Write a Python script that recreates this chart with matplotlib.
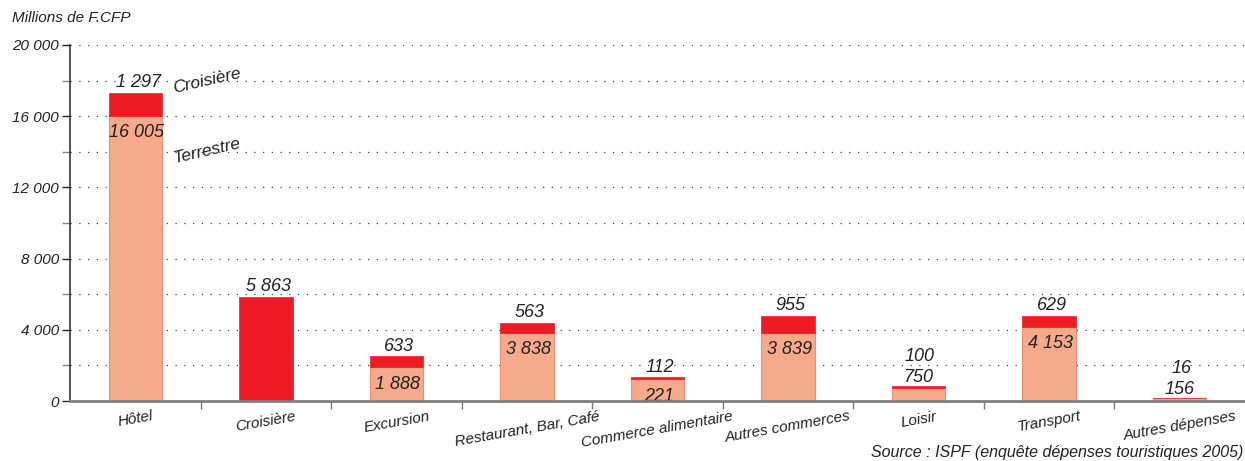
import matplotlib.pyplot as plt
import numpy as np

plt.rcParams['font.family'] = ['Liberation Sans', 'DejaVu Sans']
plt.rcParams['font.style'] = 'italic'

## Data (millions de F.CFP)
categories = ['Hôtel', 'Croisière', 'Excursion', 'Restaurant, Bar, Café',
              'Commerce alimentaire', 'Autres commerces', 'Loisir',
              'Transport', 'Autres dépenses']
terrestre = [16005, 0, 1888, 3838, 1221, 3839, 750, 4153, 156]
croisiere = [1297, 5863, 633, 563, 112, 955, 100, 629, 16]
terrestre_labels = ['16 005', '', '1 888', '3 838', '221', '3 839', '750', '4 153', '156']
croisiere_labels = ['1 297', '5 863', '633', '563', '112', '955', '100', '629', '16']
small_bar = [False, False, False, False, False, False, True, False, True]  # labels above the bar

y_ticks = [0, 4000, 8000, 12000, 16000, 20000]
y_tick_labels = ['0', '4 000', '8 000', '12 000', '16 000', '20 000']

c_terr = '#F7A98C'
c_terr_edge = '#F28C74'
c_crois = '#ED1C24'
txt = '#222222'

fig = plt.figure(figsize=(12.45, 4.61), dpi=100)
ax = fig.add_axes([70 / 1245, 1 - 401 / 461, 1175 / 1245, 356 / 461])

x = np.arange(len(categories))
w = 0.41
ax.bar(x, terrestre, w, color=c_terr, edgecolor=c_terr_edge, linewidth=0.8, zorder=3)
ax.bar(x, croisiere, w, bottom=terrestre, color=c_crois, edgecolor=c_crois, linewidth=0.5, zorder=3)

ax.set_xlim(-0.5, len(categories) - 0.5)
ax.set_ylim(0, 20000)

# grid (dotted) every 2000
for g in range(2000, 20001, 2000):
    ax.axhline(g, color='#444444', linewidth=0.9, linestyle=(0, (1, 6)), zorder=1)

# y axis
ax.set_yticks(y_ticks)
ax.set_yticklabels(y_tick_labels, fontsize=11)
ax.set_yticks(range(2000, 20000, 4000), minor=True)
ax.tick_params(axis='y', which='major', length=6, width=1, color=txt, pad=2, labelcolor=txt)
ax.tick_params(axis='y', which='minor', length=6, width=1, color='#888888')

# x axis: labels at centers, ticks at boundaries
ax.set_xticks(x)
ax.set_xticklabels(categories, fontsize=11, rotation=10, ha='center', color=txt)
ax.set_xticks(np.arange(0.5, len(categories) - 0.5, 1), minor=True)
ax.tick_params(axis='x', which='major', length=0, pad=6)
ax.tick_params(axis='x', which='minor', length=6, width=1, color='#777777')
xl = ax.get_xticklabels()
xl[3].set_x(-0.1)
xl[4].set_x(3.86)

for s in ['top', 'right']:
    ax.spines[s].set_visible(False)
ax.spines['left'].set_color(txt)
ax.spines['left'].set_linewidth(1.1)
ax.spines['bottom'].set_color('#808080')
ax.spines['bottom'].set_linewidth(2)
ax.spines['bottom'].set_zorder(4)

# value labels
for i in range(len(categories)):
    top = terrestre[i] + croisiere[i]
    if small_bar[i]:
        ax.annotate(terrestre_labels[i], (x[i], top), xytext=(0, 3), textcoords='offset points',
                    ha='center', va='baseline', fontsize=13, color=txt)
        ax.annotate(croisiere_labels[i], (x[i], top), xytext=(1, 18), textcoords='offset points',
                    ha='center', va='baseline', fontsize=13, color=txt)
    else:
        ax.annotate(croisiere_labels[i], (x[i], top), xytext=(2, 4), textcoords='offset points',
                    ha='center', va='baseline', fontsize=13, color=txt)
        if terrestre[i] > 0:
            ax.annotate(terrestre_labels[i], (x[i], terrestre[i]), xytext=(1, -6), textcoords='offset points',
                        ha='center', va='top', fontsize=13, color=txt)

# series names next to the first bar
ax.annotate('Croisière', (x[0] + w / 2, terrestre[0] + croisiere[0]), xytext=(32, 9),
            textcoords='offset points', ha='center', va='center', rotation=13,
            fontsize=12.5, color=txt)
ax.annotate('Terrestre', (x[0] + w / 2, terrestre[0]), xytext=(32, -25),
            textcoords='offset points', ha='center', va='center', rotation=13,
            fontsize=12.5, color=txt)

fig.text(12 / 1245, 1 - 18 / 461, 'Millions de F.CFP', fontsize=11, va='center', ha='left', color=txt)
fig.text(1243 / 1245, 1 - 452 / 461, 'Source : ISPF (enquête dépenses touristiques 2005)',
         fontsize=11.5, va='center', ha='right', color=txt)

fig.savefig('out.png', dpi=100)
